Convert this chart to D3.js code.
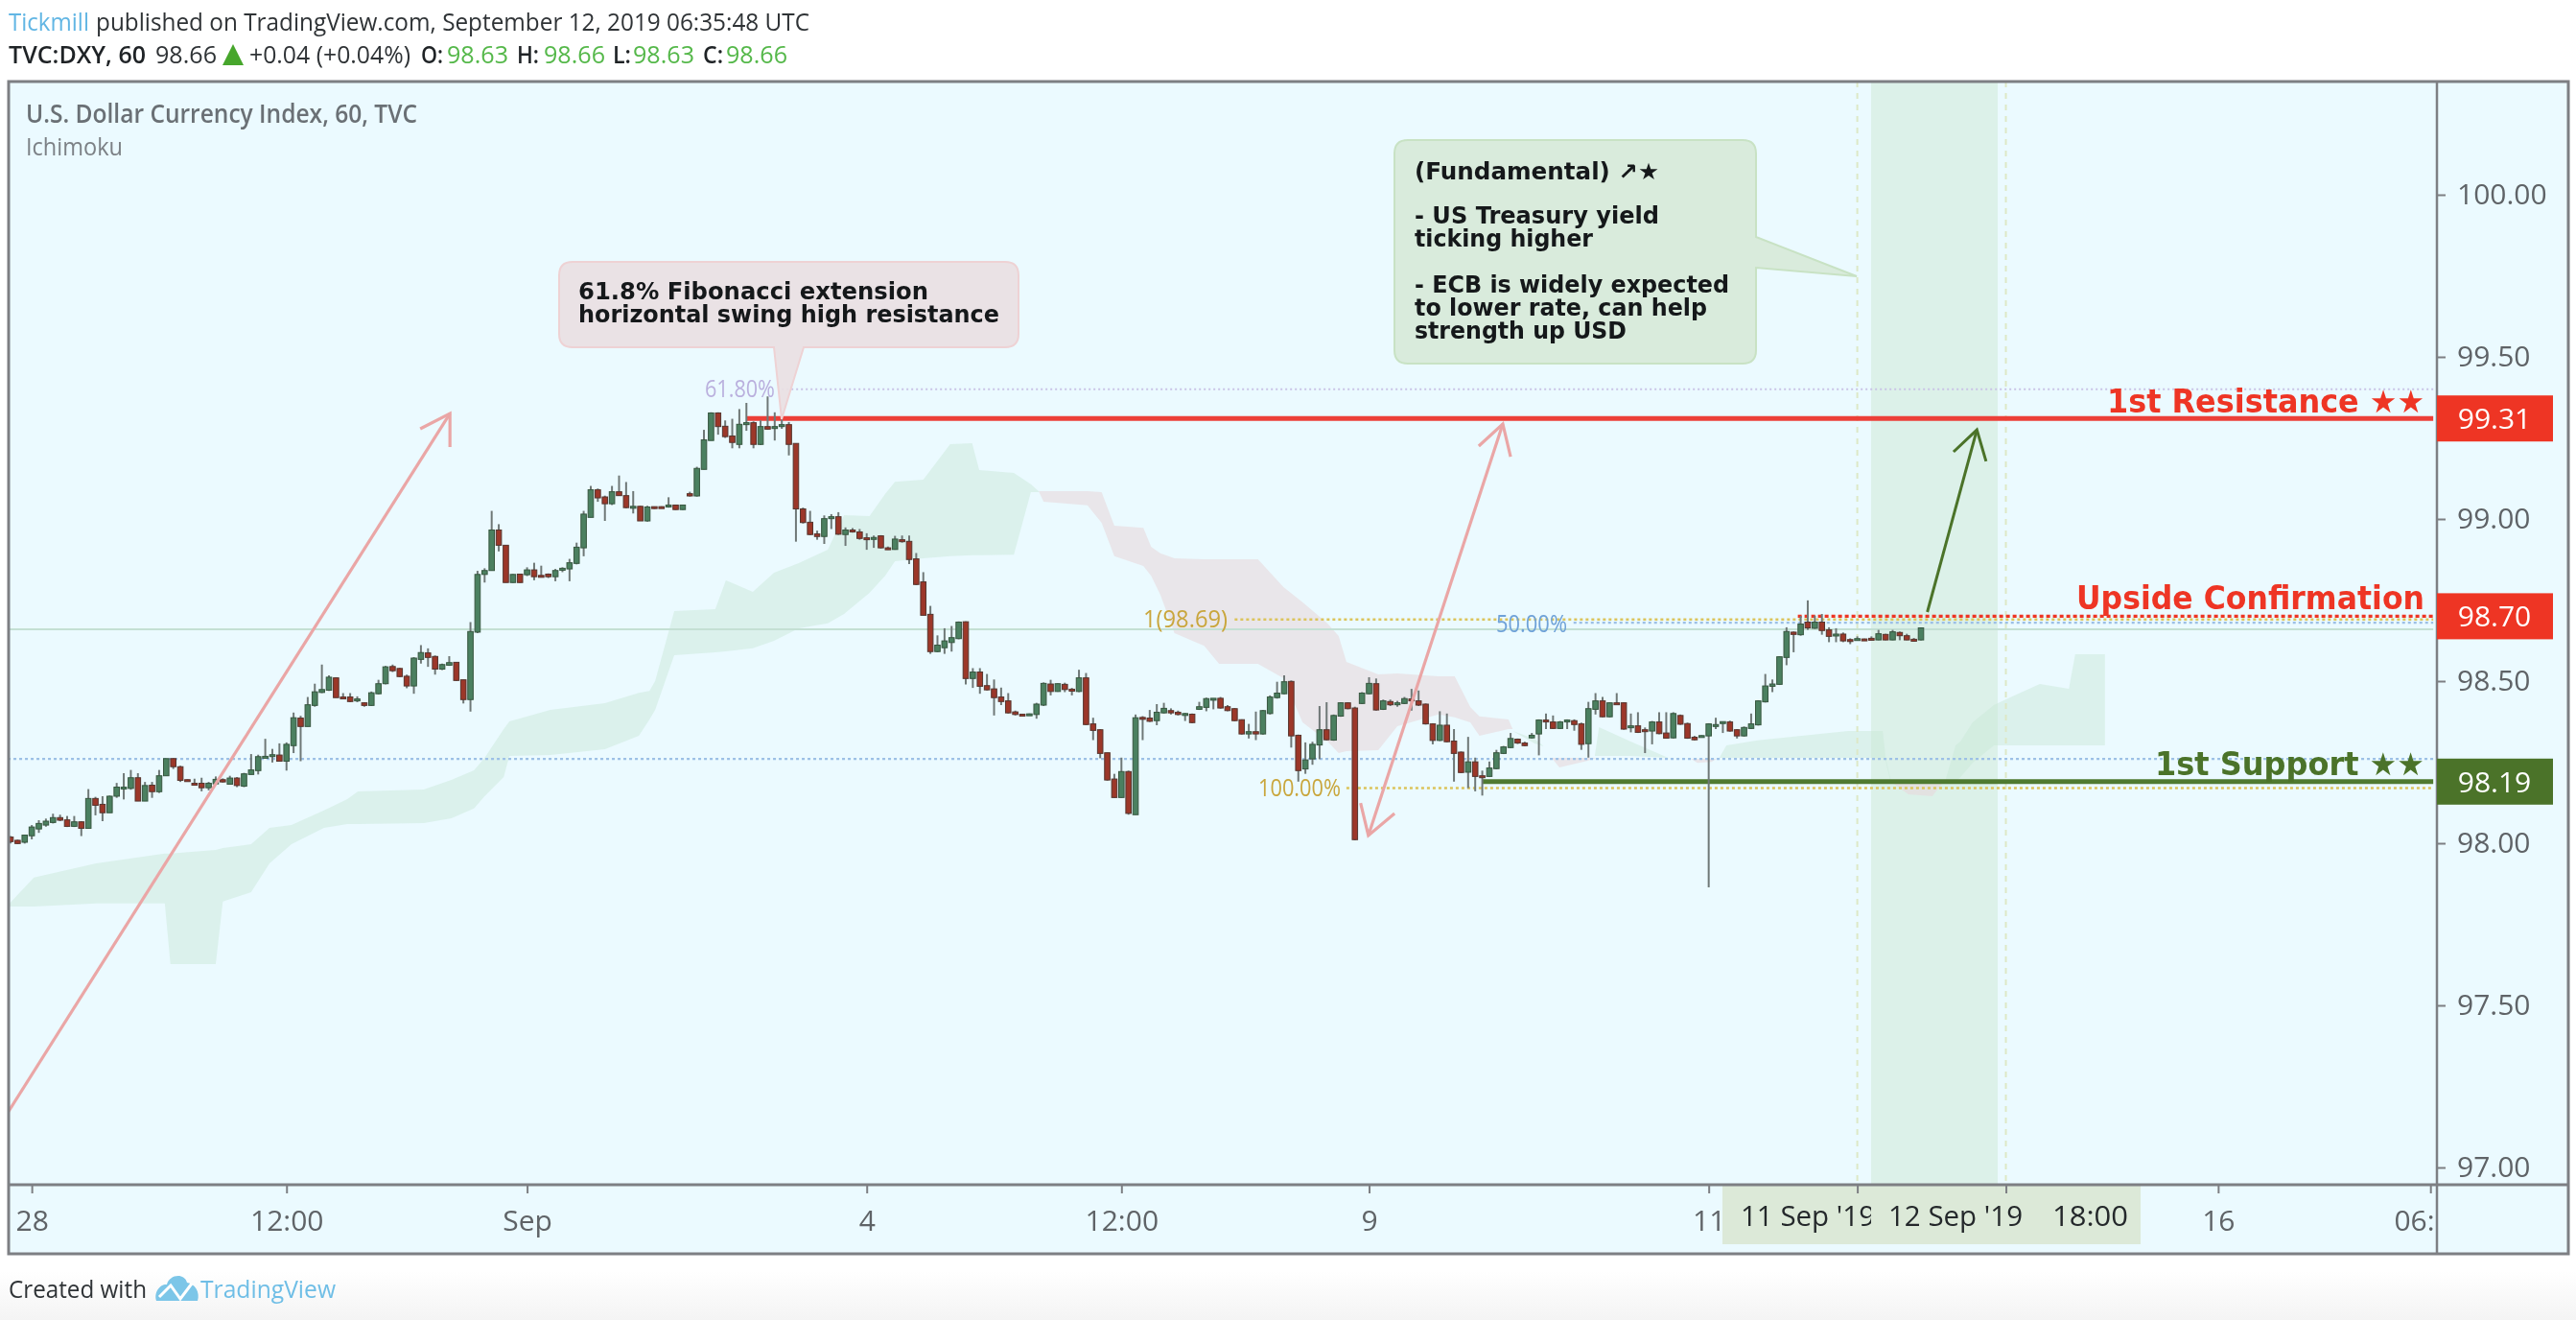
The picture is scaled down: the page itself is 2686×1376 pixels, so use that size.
<!DOCTYPE html>
<html>
<head>
<meta charset="utf-8">
<script src="https://cdnjs.cloudflare.com/ajax/libs/d3/7.8.5/d3.min.js"></script>
<style>
html, body {margin: 0; padding: 0; background: #fff;}
svg {display: block; filter: blur(0.7px);}
text {font-family: "Open Sans", sans-serif;}
.bold {font-family: "DejaVu Sans", sans-serif; font-weight: bold;}
</style>
</head>
<body>
<div id="chart"></div>
<script>
"use strict";
/*
Hourly candles. Index 0 is the leftmost bar.
*/
var opens = [
98.019,98.009,98.003,98.023,98.044,98.056,98.064,98.079,98.072,98.052,
98.066,98.046,98.138,98.120,98.094,98.145,98.173,98.169,98.202,98.130,
98.179,98.159,98.208,98.261,98.236,98.196,98.185,98.185,98.171,98.183,
98.196,98.182,98.201,98.176,98.212,98.224,98.267,98.272,98.272,98.253,
98.301,98.386,98.360,98.425,98.465,98.472,98.510,98.451,98.451,98.439,
98.433,98.425,98.461,98.492,98.545,98.539,98.515,98.485,98.567,98.587,
98.576,98.537,98.549,98.558,98.504,98.443,98.651,98.829,98.841,98.966,
98.919,98.804,98.830,98.828,98.843,98.826,98.830,98.822,98.842,98.846,
98.863,98.911,99.005,99.090,99.068,99.047,99.084,99.072,99.037,99.039,
98.994,99.038,99.038,99.037,99.043,99.029,99.078,99.071,99.153,99.242,
99.327,99.286,99.256,99.230,99.291,99.297,99.230,99.285,99.279,99.285,
99.291,99.233,99.031,98.990,98.954,98.946,99.001,99.007,98.952,98.966,
98.960,98.942,98.941,98.948,98.911,98.906,98.936,98.931,98.877,98.806,
98.706,98.591,98.603,98.619,98.631,98.683,98.508,98.528,98.486,98.476,
98.451,98.439,98.405,98.398,98.397,98.397,98.426,98.491,98.468,98.490,
98.475,98.468,98.510,98.368,98.350,98.279,98.198,98.141,98.221,98.088,
98.388,98.386,98.378,98.402,98.409,98.404,98.398,98.398,98.413,98.419,
98.445,98.447,98.421,98.415,98.381,98.337,98.344,98.337,98.400,98.449,
98.461,98.499,98.333,98.229,98.260,98.303,98.350,98.318,98.392,98.433,
98.417,98.431,98.461,98.492,98.413,98.437,98.431,98.431,98.445,98.439,
98.429,98.368,98.317,98.364,98.315,98.281,98.219,98.251,98.208,98.206,
98.230,98.277,98.295,98.321,98.309,98.325,98.337,98.380,98.374,98.354,
98.378,98.378,98.368,98.307,98.413,98.439,98.390,98.433,98.433,98.359,
98.362,98.350,98.346,98.374,98.340,98.325,98.394,98.369,98.327,98.331,
98.331,98.361,98.372,98.374,98.350,98.331,98.354,98.365,98.436,98.484,
98.490,98.573,98.651,98.643,98.682,98.663,98.682,98.658,98.640,98.645,
98.628,98.628,98.630,98.632,98.627,98.644,98.627,98.650,98.640,98.629,98.627];

var highs = [
98.022,98.011,98.026,98.056,98.071,98.076,98.091,98.088,98.084,98.084,
98.068,98.167,98.143,98.145,98.147,98.186,98.216,98.226,98.216,98.189,
98.189,98.226,98.261,98.263,98.239,98.197,98.199,98.202,98.189,98.206,
98.200,98.208,98.204,98.217,98.275,98.273,98.322,98.291,98.308,98.311,
98.403,98.393,98.451,98.492,98.551,98.518,98.512,98.463,98.463,98.453,
98.435,98.468,98.504,98.547,98.551,98.541,98.520,98.574,98.611,98.601,
98.579,98.554,98.577,98.559,98.504,98.682,98.840,98.848,99.025,98.984,
98.919,98.830,98.831,98.851,98.865,98.856,98.832,98.846,98.851,98.877,
98.927,99.025,99.102,99.094,99.072,99.102,99.134,99.114,99.086,99.041,
99.041,99.038,99.039,99.067,99.044,99.044,99.084,99.161,99.275,99.329,
99.329,99.304,99.309,99.339,99.358,99.301,99.304,99.378,99.329,99.307,
99.299,99.233,99.035,99.025,98.964,99.011,99.015,99.021,98.974,98.972,
98.969,98.956,98.949,98.950,98.915,98.948,98.949,98.949,98.895,98.836,
98.732,98.641,98.663,98.670,98.684,98.684,98.540,98.540,98.522,98.505,
98.480,98.463,98.409,98.399,98.400,98.433,98.496,98.504,98.493,98.495,
98.479,98.535,98.525,98.387,98.352,98.279,98.214,98.264,98.224,98.397,
98.392,98.411,98.429,98.433,98.416,98.409,98.402,98.400,98.436,98.449,
98.447,98.451,98.426,98.417,98.382,98.368,98.406,98.411,98.456,98.498,
98.518,98.502,98.335,98.311,98.313,98.423,98.435,98.397,98.435,98.435,
98.421,98.466,98.512,98.508,98.443,98.443,98.439,98.451,98.476,98.471,
98.431,98.370,98.407,98.400,98.352,98.283,98.328,98.264,98.224,98.252,
98.288,98.300,98.340,98.323,98.313,98.340,98.382,98.400,98.394,98.377,
98.382,98.382,98.372,98.436,98.463,98.451,98.435,98.463,98.435,98.400,
98.404,98.357,98.377,98.404,98.404,98.404,98.397,98.372,98.331,98.333,
98.370,98.387,98.375,98.378,98.352,98.360,98.400,98.441,98.522,98.505,
98.577,98.666,98.653,98.701,98.749,98.702,98.707,98.666,98.663,98.650,
98.632,98.638,98.631,98.638,98.658,98.646,98.658,98.653,98.646,98.633,98.666];

var lows = [
97.999,97.997,97.999,98.012,98.032,98.051,98.061,98.068,98.050,98.050,
98.022,98.046,98.086,98.068,98.094,98.140,98.135,98.165,98.130,98.130,
98.140,98.155,98.208,98.229,98.189,98.193,98.182,98.160,98.163,98.180,
98.187,98.181,98.173,98.173,98.212,98.212,98.265,98.249,98.252,98.224,
98.278,98.253,98.360,98.421,98.463,98.470,98.449,98.446,98.435,98.435,
98.421,98.423,98.459,98.490,98.528,98.512,98.478,98.461,98.554,98.544,
98.520,98.534,98.547,98.500,98.431,98.406,98.648,98.804,98.841,98.900,
98.804,98.803,98.803,98.824,98.811,98.821,98.818,98.808,98.836,98.808,
98.860,98.885,99.005,99.053,98.994,99.043,99.071,99.033,99.017,98.994,
98.992,99.031,99.035,99.035,99.028,99.028,99.069,99.069,99.153,99.242,
99.260,99.250,99.218,99.218,99.272,99.218,99.228,99.275,99.242,99.278,
99.196,98.930,98.986,98.950,98.936,98.923,98.969,98.951,98.917,98.958,
98.936,98.905,98.911,98.909,98.905,98.905,98.927,98.861,98.796,98.703,
98.584,98.589,98.584,98.591,98.629,98.490,98.479,98.461,98.471,98.394,
98.426,98.400,98.394,98.396,98.396,98.384,98.423,98.456,98.467,98.466,
98.456,98.466,98.364,98.318,98.262,98.193,98.140,98.140,98.088,98.088,
98.318,98.374,98.364,98.400,98.397,98.394,98.377,98.370,98.411,98.407,
98.413,98.415,98.407,98.376,98.335,98.323,98.318,98.335,98.397,98.446,
98.459,98.295,98.190,98.214,98.242,98.259,98.317,98.316,98.390,98.413,
98.009,98.429,98.459,98.409,98.411,98.423,98.421,98.429,98.409,98.423,
98.366,98.305,98.315,98.311,98.190,98.216,98.170,98.160,98.147,98.204,
98.228,98.275,98.293,98.306,98.299,98.323,98.271,98.352,98.352,98.352,
98.352,98.347,98.288,98.264,98.397,98.388,98.388,98.429,98.350,98.342,
98.340,98.278,98.305,98.336,98.323,98.323,98.365,98.322,98.317,98.330,
97.864,98.352,98.340,98.344,98.323,98.329,98.352,98.363,98.434,98.466,
98.488,98.549,98.589,98.640,98.658,98.661,98.643,98.620,98.620,98.620,
98.614,98.626,98.626,98.626,98.626,98.626,98.626,98.626,98.626,98.622,98.626];

var closes = [
98.005,97.999,98.025,98.050,98.061,98.068,98.079,98.071,98.052,98.066,
98.046,98.138,98.117,98.094,98.145,98.173,98.173,98.202,98.130,98.178,
98.159,98.208,98.261,98.236,98.194,98.194,98.183,98.171,98.185,98.197,
98.189,98.201,98.178,98.214,98.226,98.267,98.268,98.273,98.253,98.305,
98.387,98.360,98.427,98.467,98.474,98.512,98.449,98.449,98.437,98.445,
98.425,98.464,98.492,98.544,98.532,98.514,98.485,98.571,98.588,98.573,
98.537,98.551,98.557,98.502,98.443,98.653,98.829,98.841,98.966,98.919,
98.804,98.829,98.804,98.843,98.822,98.824,98.822,98.841,98.848,98.865,
98.913,99.015,99.090,99.065,99.047,99.084,99.072,99.035,99.039,98.994,
99.037,99.035,99.036,99.043,99.029,99.043,99.071,99.156,99.244,99.327,
99.285,99.254,99.236,99.292,99.297,99.230,99.285,99.277,99.285,99.291,
99.230,99.031,98.989,98.952,98.946,99.001,99.007,98.953,98.966,98.960,
98.940,98.940,98.943,98.911,98.906,98.938,98.930,98.875,98.798,98.703,
98.591,98.611,98.624,98.634,98.682,98.508,98.528,98.484,98.473,98.449,
98.437,98.402,98.397,98.397,98.399,98.429,98.493,98.468,98.492,98.474,
98.470,98.510,98.366,98.348,98.277,98.195,98.141,98.221,98.092,98.387,
98.386,98.376,98.404,98.416,98.402,98.397,98.400,98.372,98.421,98.446,
98.447,98.417,98.409,98.378,98.337,98.344,98.337,98.409,98.451,98.463,
98.498,98.331,98.224,98.257,98.305,98.350,98.319,98.394,98.433,98.415,
98.011,98.463,98.493,98.411,98.439,98.427,98.433,98.446,98.441,98.426,
98.368,98.317,98.364,98.313,98.277,98.218,98.251,98.206,98.206,98.232,
98.279,98.297,98.323,98.309,98.301,98.333,98.380,98.374,98.354,98.374,
98.380,98.366,98.305,98.415,98.439,98.390,98.433,98.431,98.352,98.362,
98.342,98.349,98.374,98.338,98.324,98.400,98.367,98.324,98.319,98.332,
98.368,98.366,98.375,98.346,98.331,98.357,98.368,98.439,98.485,98.491,
98.575,98.653,98.644,98.676,98.664,98.682,98.656,98.638,98.645,98.624,
98.626,98.631,98.627,98.627,98.646,98.627,98.652,98.640,98.627,98.628,98.664];

/* Ichimoku cloud, one entry per stretch: bar positions, upper edge, lower edge */
var kumoBars = [
  [-0.3,3.3,12.1,21.8,22.6,29,30,34,36.6,39.7,44.3,47.6,49.1,58.4,62.3,65.5,67,69.7,70.5,76.3,84,88.8,90.3,91.1,93.8,99.6,101.1,104.9,107.9,111.4,115.5,117.8,121.4,123.6,125,129,132.8,135.9,136.9,141.8,144.2,145.3],
  [145.3,146,152.2,154.2,156,160.1,161.2,162.5,164.5,168.7,170.8,176.3,179.9,182.6,186.1,187.7,188.8,193.3,196,201.8,204.1,206.3,207.6,211.7,212.3],
  [212.3,215.4,216.7],
  [217.8,218.9,222.8,224.1],
  [223.9,224.5,228.9,234.3],
  [237.5,238.4,240.4,241.1],
  [241.5,242.5,246.9,259.7,264.6,265,265.7],
  [265.8,268.2,271.6,273.2],
  [273.4,274.9,275.6,277.3,280.3,282.6,286.8,290.9,291.8,296]
];
var kumoTop = [
  [97.811,97.894,97.938,97.968,97.968,97.979,97.985,97.997,98.047,98.056,98.101,98.136,98.160,98.166,98.195,98.225,98.263,98.352,98.376,98.411,98.432,98.464,98.470,98.500,98.716,98.722,98.811,98.775,98.834,98.864,98.905,99.012,99.009,99.077,99.115,99.121,99.231,99.234,99.151,99.142,99.107,99.086],
  [99.086,99.086,99.086,99.083,98.979,98.973,98.914,98.894,98.879,98.876,98.876,98.876,98.790,98.743,98.678,98.639,98.559,98.521,98.524,98.515,98.515,98.420,98.391,98.382,98.352],
  [98.346,98.322,98.299],
  [98.263,98.263,98.263,98.263],
  [98.269,98.358,98.314,98.263],
  [98.260,98.260,98.260,98.260],
  [98.263,98.302,98.317,98.346,98.346,98.263,98.198],
  [98.189,98.189,98.189,98.189],
  [98.189,98.302,98.314,98.373,98.426,98.450,98.491,98.476,98.583,98.583]
];
var kumoBottom = [
  [97.805,97.805,97.814,97.814,97.627,97.627,97.820,97.849,97.938,97.997,98.047,98.059,98.059,98.062,98.077,98.107,98.145,98.204,98.269,98.272,98.290,98.331,98.382,98.411,98.580,98.589,98.592,98.601,98.624,98.663,98.678,98.707,98.772,98.825,98.870,98.879,98.885,98.888,98.888,98.890,99.083,99.083],
  [99.086,99.053,99.042,98.988,98.885,98.855,98.825,98.766,98.648,98.609,98.553,98.553,98.509,98.373,98.314,98.278,98.284,98.287,98.361,98.397,98.388,98.373,98.331,98.352,98.352],
  [98.346,98.308,98.299],
  [98.263,98.234,98.254,98.263],
  [98.269,98.269,98.269,98.263],
  [98.260,98.248,98.251,98.260],
  [98.263,98.263,98.263,98.263,98.263,98.254,98.189],
  [98.189,98.151,98.145,98.189],
  [98.189,98.189,98.204,98.248,98.302,98.302,98.302,98.302,98.302,98.302]
];
var kumoBullish = [true,false,true,false,true,false,true,false,true];

var priceTicks = [97,97.5,98,98.5,99,99.5,100];
var timeTickBars = [3,39,73,121,157,192,240,261,282,312,342];
var timeTickLabels = ["28","12:00","Sep","4","12:00","9","11","","","16","06:00"];
var selectedDateBars = [261,282];
var endBar = 342.4;

/* labels inside the highlighted stretch of the time scale */
var dateLabels = ["11 Sep '19","12 Sep '19","18:00"];
var dateLabelStart = [1815,1969,2140];
var dateLabelLen = [140,140,79];

/* horizontal levels: price, first bar, colour, width, dash */
var levelPrices = [99.40,98.68,98.69,98.26,98.17,98.66,99.31,98.70,98.19];
var levelStarts = [109,220.9,173,-0.4,188.8,-0.4,104,252.6,208];
var levelColors = ["#c9c3e6","#9cc0e6","#dcc45c","#9cc0e6","#dcc45c","#c4e0d4","#ec3f38","#ee3524","#4f7a30"];
var levelWidths = [2,2.4,2.4,2.4,2.4,2,5,3.4,5];
var levelDashes = ["2 3","3 3","3 3","3 3","3 3",null,null,"4 3",null];

/* tagged prices on the right scale */
var tagPrices = [99.31,98.70,98.19];
var tagColors = ["#ee3524","#ee3524","#4b7329"];
var tagTitles = ["1st Resistance ★★","Upside Confirmation","1st Support ★★"];
var tagTitleStart = [2197,2165,2247];
var tagTitleBase = [430,635,808];

/* arrows: each is a list of polylines in [bar, price] */
var pinkArrowLines = [
  [[-0.4,97.169],[62.1,99.325]],
  [[57.9,99.278],[62.1,99.325],[62.1,99.222]],
  [[210.9,99.293],[191.9,98.024]],
  [[207.5,99.225],[210.9,99.293],[212,99.192]],
  [[190.8,98.124],[191.9,98.024],[195.6,98.092]]
];
var greenArrowLines = [
  [[270.9,98.713],[277.9,99.275]],
  [[274.6,99.207],[277.9,99.275],[279.2,99.178]]
];

var width = 2686, height = 1376,
    frameLeft = 9, frameTop = 85, frameRight = 2678, frameBottom = 1307,
    plotRight = 2541, plotBottom = 1235;

var x = d3.scaleLinear().domain([0,270]).range([11,2003]);
var y = d3.scaleLinear().domain([97,100]).range([1217,203]);

var svg = d3.select("#chart").append("svg")
    .attr("width", width)
    .attr("height", height);

var defs = svg.append("defs");
defs.append("clipPath").attr("id","plotClip").append("rect")
    .attr("x",frameLeft).attr("y",frameTop)
    .attr("width",plotRight-frameLeft).attr("height",plotBottom-frameTop);
defs.append("clipPath").attr("id","timeClip").append("rect")
    .attr("x",frameLeft).attr("y",0)
    .attr("width",plotRight-frameLeft).attr("height",frameBottom-plotBottom);
defs.append("clipPath").attr("id","dateClip").append("rect")
    .attr("x",frameLeft).attr("y",plotBottom)
    .attr("width",1951-frameLeft).attr("height",frameBottom-plotBottom);
var fade = defs.append("linearGradient").attr("id","pageFade")
    .attr("x1",0).attr("y1",0).attr("x2",0).attr("y2",1);
fade.append("stop").attr("offset",0).attr("stop-color","#ffffff");
fade.append("stop").attr("offset",1).attr("stop-color","#f4f4f4");

svg.append("rect").attr("width",width).attr("height",height).attr("fill","#fff");
svg.append("rect").attr("y",1325).attr("width",width).attr("height",51).attr("fill","url(#pageFade)");

// text squeezed to the width it has in the picture
function fitText(g, str, xPos, base, len, size, color, cls) {
    return g.append("text")
        .attr("x",xPos).attr("y",base)
        .attr("textLength",len).attr("lengthAdjust","spacingAndGlyphs")
        .attr("font-size",size).attr("fill",color)
        .attr("class",cls || null)
        .text(str);
}

/* header */
var head = svg.append("g");
fitText(head,"Tickmill",9,32,84,26,"#62b6e4");
fitText(head,"published on TradingView.com, September 12, 2019 06:35:48 UTC",100,32,744,26,"#2f3336");
fitText(head,"TVC:DXY, 60",9,66,143,26,"#1f2326").attr("font-weight",600);
fitText(head,"98.66",162,66,64,26,"#2f3336");
head.append("path").attr("d","M243 46L254 68L232 68Z").attr("fill","#47a62c");
fitText(head,"+0.04 (+0.04%)",260,66,168,26,"#2f3336");
var ohlcLabels = ["O:","H:","L:","C:"],
    ohlcValues = ["98.63","98.66","98.63","98.66"],
    ohlcLabelX = [439,539,639,733],
    ohlcLabelLen = [23,23,19,21],
    ohlcValueX = [466,567,660,757];
ohlcLabels.forEach(function(d,i){
    fitText(head,d,ohlcLabelX[i],66,ohlcLabelLen[i],26,"#1f2326").attr("font-weight",600);
    fitText(head,ohlcValues[i],ohlcValueX[i],66,64,26,"#55b84a");
});

/* chart background and frame lines */
svg.append("rect")
    .attr("x",frameLeft).attr("y",frameTop)
    .attr("width",frameRight-frameLeft).attr("height",frameBottom-frameTop)
    .attr("fill","#ebfaff");

var plot = svg.append("g").attr("clip-path","url(#plotClip)");

// highlighted date range
plot.append("rect")
    .attr("x",1951).attr("y",frameTop)
    .attr("width",2083-1951).attr("height",plotBottom-frameTop)
    .attr("fill","#dcf1e9");

// cloud
var kumoArea = d3.area()
    .x(function(d){return x(d[0]);})
    .y0(function(d){return y(d[2]);})
    .y1(function(d){return y(d[1]);});
kumoBars.forEach(function(bars,k){
    var rows = bars.map(function(b,i){return [b,kumoTop[k][i],kumoBottom[k][i]];});
    plot.append("path")
        .attr("d",kumoArea(rows))
        .attr("fill",kumoBullish[k] ? "#c9e8d8" : "#e8d8dc")
        .attr("fill-opacity",kumoBullish[k] ? 0.48 : 0.6);
});

// selected date markers
plot.selectAll("line.dateMark").data(selectedDateBars).enter().append("line")
    .attr("class","dateMark")
    .attr("x1",function(d){return x(d);}).attr("x2",function(d){return x(d);})
    .attr("y1",frameTop).attr("y2",plotBottom)
    .attr("stroke","#dde8c6").attr("stroke-width",2).attr("stroke-dasharray","6 6");

// fib and support/resistance levels
plot.selectAll("line.level").data(levelPrices).enter().append("line")
    .attr("class","level")
    .attr("x1",function(d,i){return x(levelStarts[i]);})
    .attr("x2",x(endBar))
    .attr("y1",function(d){return y(d);})
    .attr("y2",function(d){return y(d);})
    .attr("stroke",function(d,i){return levelColors[i];})
    .attr("stroke-width",function(d,i){return levelWidths[i];})
    .attr("stroke-dasharray",function(d,i){return levelDashes[i];});

// candles
var candleData = opens.map(function(o,i){
    return {i:i,o:o,h:highs[i],l:lows[i],c:closes[i]};
});
var candles = plot.append("g");
candles.selectAll("line").data(candleData).enter().append("line")
    .attr("x1",function(d){return x(d.i);})
    .attr("x2",function(d){return x(d.i);})
    .attr("y1",function(d){return y(d.h);})
    .attr("y2",function(d){return y(d.l);})
    .attr("stroke","#6f7877").attr("stroke-width",2);
candles.selectAll("rect").data(candleData).enter().append("rect")
    .attr("x",function(d){return x(d.i)-2.8;})
    .attr("width",5.6)
    .attr("y",function(d){return y(Math.max(d.o,d.c));})
    .attr("height",function(d){return Math.max(Math.abs(y(d.o)-y(d.c)),2);})
    .attr("fill",function(d){return d.c>=d.o ? "#4b8060" : "#9c3729";})
    .attr("stroke",function(d){return d.c>=d.o ? "#37563f" : "#56352e";})
    .attr("stroke-width",1);

// hand drawn arrows
var arrowLine = d3.line()
    .x(function(d){return x(d[0]);})
    .y(function(d){return y(d[1]);});
pinkArrowLines.forEach(function(p){
    plot.append("path").attr("d",arrowLine(p))
        .attr("fill","none").attr("stroke","#eaa6a6").attr("stroke-width",3.2);
});
greenArrowLines.forEach(function(p){
    plot.append("path").attr("d",arrowLine(p))
        .attr("fill","none").attr("stroke","#4b7329").attr("stroke-width",3);
});

// fib labels
fitText(plot,"61.80%",735,414,73,26,"#bab0de");
fitText(plot,"1(98.69)",1192,654,88,26,"#c9a63c");
fitText(plot,"100.00%",1312,830,86,26,"#c9a63c");
fitText(plot,"50.00%",1560,659,74,26,"#6fa2d8");

/* callouts */
function rounded(l,t,r,b,rad,tail) {
    return "M"+(l+rad)+" "+t+"L"+(r-rad)+" "+t+"Q"+r+" "+t+" "+r+" "+(t+rad)
        +(tail.side==="right" ? "L"+r+" "+tail.a+"L"+tail.tx+" "+tail.ty+"L"+r+" "+tail.b : "")
        +"L"+r+" "+(b-rad)+"Q"+r+" "+b+" "+(r-rad)+" "+b
        +(tail.side==="bottom" ? "L"+tail.b+" "+b+"L"+tail.tx+" "+tail.ty+"L"+tail.a+" "+b : "")
        +"L"+(l+rad)+" "+b+"Q"+l+" "+b+" "+l+" "+(b-rad)
        +"L"+l+" "+(t+rad)+"Q"+l+" "+t+" "+(l+rad)+" "+t+"Z";
}
svg.append("path")
    .attr("d",rounded(583,273,1062,362,14,{side:"bottom",a:807,b:838,tx:815,ty:437}))
    .attr("fill","#e9dfe3").attr("fill-opacity",0.92)
    .attr("stroke","#eed2d4").attr("stroke-width",2);
var pinkLines = ["61.8% Fibonacci extension","horizontal swing high resistance"],
    pinkBase = [312,336], pinkLen = [365,439];
pinkLines.forEach(function(t,i){
    fitText(svg,t,603,pinkBase[i],pinkLen[i],24,"#15181a","bold");
});

svg.append("path")
    .attr("d",rounded(1454,146,1831,379,14,{side:"right",a:247,b:279,tx:1936,ty:288}))
    .attr("fill","#d9ebdc")
    .attr("stroke","#c8e2c4").attr("stroke-width",2);
var greenLines = ["(Fundamental) ↗★","- US Treasury yield","ticking higher","- ECB is widely expected","to lower rate, can help","strength up USD"],
    greenBase = [187,233,257,305,329,353],
    greenLen = [255,255,186,328,305,221];
greenLines.forEach(function(t,i){
    fitText(svg,t,1475,greenBase[i],greenLen[i],24,"#15181a","bold");
});

/* axes */
var priceAxis = d3.axisRight(y)
    .tickValues(priceTicks)
    .tickSize(9)
    .tickPadding(12)
    .tickFormat(d3.format(".2f"));
var priceG = svg.append("g")
    .attr("transform","translate("+plotRight+",0)")
    .call(priceAxis);
priceG.select(".domain").remove();
priceG.selectAll("text").attr("font-family","'Open Sans', sans-serif").attr("font-size",30).attr("fill","#5f6367");
priceG.selectAll("line").attr("stroke","#7d7f83").attr("stroke-width",2);

// date highlight behind the time labels
svg.append("rect")
    .attr("x",1796).attr("y",plotBottom)
    .attr("width",2232-1796).attr("height",1297-plotBottom)
    .attr("fill","#dce9d8");

var timeAxis = d3.axisBottom(x)
    .tickValues(timeTickBars)
    .tickSize(9)
    .tickPadding(18)
    .tickFormat(function(d){return timeTickLabels[timeTickBars.indexOf(d)];});
var timeG = svg.append("g")
    .attr("transform","translate(0,"+plotBottom+")")
    .attr("clip-path","url(#timeClip)")
    .call(timeAxis);
timeG.select(".domain").remove();
timeG.selectAll("line").attr("stroke","#7d7f83").attr("stroke-width",2);
timeG.selectAll("text").attr("font-family","'Open Sans', sans-serif").attr("font-size",30).attr("fill","#5f6367");

dateLabels.forEach(function(t,i){
    var lab = fitText(svg,t,dateLabelStart[i],1278,dateLabelLen[i],30,"#24282b");
    if (i===0) lab.attr("clip-path","url(#dateClip)");
});

// frame on top of the fills
var frame = svg.append("g").attr("fill","none").attr("stroke","#7d7f83");
frame.append("rect")
    .attr("x",frameLeft).attr("y",frameTop)
    .attr("width",frameRight-frameLeft).attr("height",frameBottom-frameTop)
    .attr("stroke-width",3);
frame.append("line").attr("x1",plotRight).attr("x2",plotRight).attr("y1",frameTop).attr("y2",frameBottom).attr("stroke-width",2.5);
frame.append("line").attr("x1",frameLeft).attr("x2",frameRight).attr("y1",plotBottom).attr("y2",plotBottom).attr("stroke-width",3);

/* price tags and their captions */
tagPrices.forEach(function(p,i){
    svg.append("rect")
        .attr("x",plotRight).attr("y",y(p)-24)
        .attr("width",121).attr("height",48)
        .attr("fill",tagColors[i]);
    svg.append("text")
        .attr("x",plotRight+60).attr("y",y(p)+11)
        .attr("text-anchor","middle")
        .attr("font-size",30).attr("fill","#fff")
        .text(d3.format(".2f")(p));
    fitText(svg,tagTitles[i],tagTitleStart[i],tagTitleBase[i],2528-tagTitleStart[i],33,tagColors[i],"bold");
});

/* chart title */
fitText(svg,"U.S. Dollar Currency Index, 60, TVC",27,128,408,27,"#6a7075").attr("font-weight",600);
fitText(svg,"Ichimoku",27,162,101,26,"#7c8186");

/* footer */
fitText(svg,"Created with",9,1353,144,26,"#2f3336");
svg.append("path")
    .attr("d","M163 1356C160 1346 168 1338 174 1339C176 1329 192 1326 195 1337C203 1338 209 1347 206 1356Z")
    .attr("fill","#7cc6e8");
svg.append("path")
    .attr("d","M166 1352L178 1340L188 1354L200 1338")
    .attr("fill","none").attr("stroke","#fff").attr("stroke-width",3);
fitText(svg,"TradingView",209,1353,141,26,"#6fbee6");
</script>
</body>
</html>
